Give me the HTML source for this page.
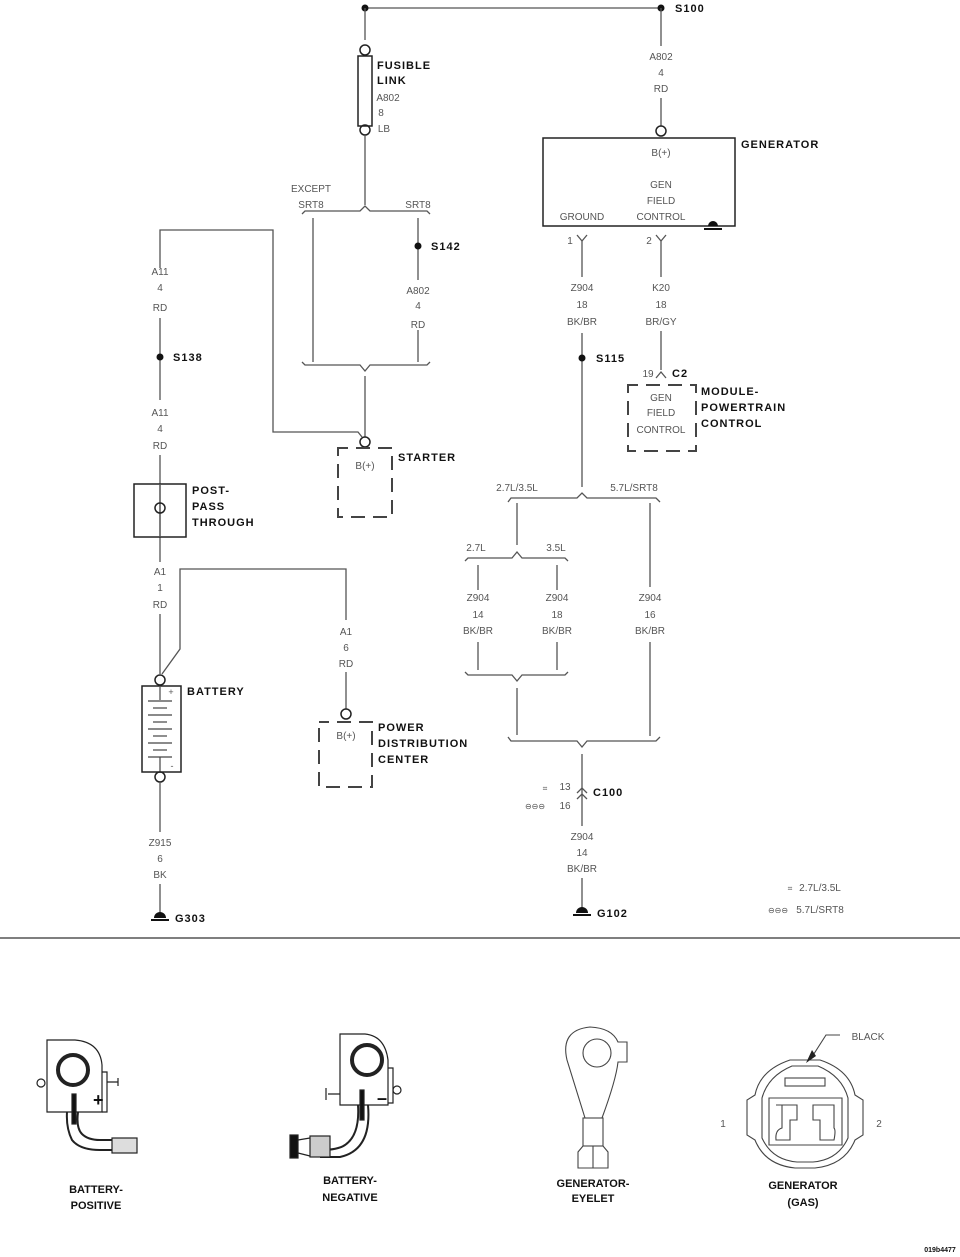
<!DOCTYPE html>
<html><head><meta charset="utf-8"><style>
html,body{margin:0;padding:0;background:#fff;}
svg{display:block;}
.t{font-family:"Liberation Sans",sans-serif;font-size:10px;fill:#555;text-anchor:middle;}
.b{font-family:"Liberation Sans",sans-serif;font-size:11px;font-weight:bold;fill:#111;letter-spacing:1px;}
.w{stroke:#555;stroke-width:1.3;fill:none;}
.k{stroke:#222;stroke-width:1.5;fill:none;}
.d{stroke:#444;stroke-width:2;fill:none;stroke-dasharray:14,8;}
</style></head><body>
<svg width="960" height="1257" viewBox="0 0 960 1257" xmlns="http://www.w3.org/2000/svg">
<!-- top bus -->
<line class="w" x1="365" y1="8" x2="661" y2="8"/>
<circle cx="365" cy="8" r="3.5" fill="#111"/><circle cx="661" cy="8" r="3.5" fill="#111"/>
<text class="b" x="675" y="12">S100</text>
<!-- fusible link -->
<line class="w" x1="365" y1="8" x2="365" y2="40"/>
<circle class="k" cx="365" cy="50" r="5" fill="#fff"/>
<rect class="k" x="358" y="56" width="14" height="70" fill="#fff"/>
<circle class="k" cx="365" cy="130" r="5" fill="#fff"/>
<text class="b" x="377" y="69">FUSIBLE</text><text class="b" x="377" y="84">LINK</text>
<text class="t" x="388" y="101">A802</text><text class="t" x="381" y="116">8</text><text class="t" x="384" y="132">LB</text>
<line class="w" x1="365" y1="135" x2="365" y2="205"/>
<text class="t" x="311" y="192">EXCEPT</text><text class="t" x="311" y="208">SRT8</text><text class="t" x="418" y="208">SRT8</text>
<path class="w" d="M302,214 L305,211 L360,211 L365,206 L370,211 L427,211 L430,214"/>
<line class="w" x1="313" y1="218" x2="313" y2="362"/>
<line class="w" x1="418" y1="218" x2="418" y2="280"/><line class="w" x1="418" y1="330" x2="418" y2="362"/>
<circle cx="418" cy="246" r="3.5" fill="#111"/><text class="b" x="431" y="250">S142</text>
<text class="t" x="418" y="294">A802</text><text class="t" x="418" y="309">4</text><text class="t" x="418" y="328">RD</text>
<path class="w" d="M302,362 L305,365 L360,365 L365,371 L370,365 L427,365 L430,362"/>
<line class="w" x1="365" y1="376" x2="365" y2="437"/>
<circle class="k" cx="365" cy="442" r="5" fill="#fff"/>
<path class="d" d="M338,448 H392 V517 H338 Z" stroke-dashoffset="4"/>
<text class="t" x="365" y="469">B(+)</text>
<text class="b" x="398" y="461">STARTER</text>
<!-- A11 -->
<path class="w" d="M160,268 V230 H273 V432 H358 L362,437"/>
<text class="t" x="160" y="275">A11</text><text class="t" x="160" y="291">4</text><text class="t" x="160" y="311">RD</text>
<line class="w" x1="160" y1="318" x2="160" y2="400"/>
<circle cx="160" cy="357" r="3.5" fill="#111"/><text class="b" x="173" y="361">S138</text>
<text class="t" x="160" y="416">A11</text><text class="t" x="160" y="432">4</text><text class="t" x="160" y="449">RD</text>
<line class="w" x1="160" y1="455" x2="160" y2="562"/>
<rect class="k" x="134" y="484" width="52" height="53" fill="#fff"/>
<line class="w" x1="160" y1="484" x2="160" y2="537"/>
<circle class="k" cx="160" cy="508" r="5" fill="#fff"/>
<text class="b" x="192" y="494">POST-</text><text class="b" x="192" y="510">PASS</text><text class="b" x="192" y="526">THROUGH</text>
<text class="t" x="160" y="575">A1</text><text class="t" x="160" y="591">1</text><text class="t" x="160" y="608">RD</text>
<line class="w" x1="160" y1="614" x2="160" y2="674"/>
<path class="w" d="M162,674 L180,649 V569 H346 V620"/>
<text class="t" x="346" y="635">A1</text><text class="t" x="346" y="651">6</text><text class="t" x="346" y="667">RD</text>
<line class="w" x1="346" y1="672" x2="346" y2="709"/>
<circle class="k" cx="346" cy="714" r="5" fill="#fff"/>
<path class="d" d="M319,722 H372 V787 H319 Z" stroke-dashoffset="4"/>
<text class="t" x="346" y="739">B(+)</text>
<text class="b" x="378" y="731">POWER</text><text class="b" x="378" y="747">DISTRIBUTION</text><text class="b" x="378" y="763">CENTER</text>
<!-- battery -->
<circle class="k" cx="160" cy="680" r="5" fill="#fff"/>
<rect class="k" x="142" y="686" width="39" height="86" fill="#fff"/>
<line class="w" x1="160" y1="686" x2="160" y2="700"/>
<g stroke="#444" stroke-width="1.2">
<line x1="148" y1="701" x2="172" y2="701"/><line x1="153" y1="708" x2="167" y2="708"/>
<line x1="148" y1="715" x2="172" y2="715"/><line x1="153" y1="722" x2="167" y2="722"/>
<line x1="148" y1="729" x2="172" y2="729"/><line x1="153" y1="736" x2="167" y2="736"/>
<line x1="148" y1="743" x2="172" y2="743"/><line x1="153" y1="750" x2="167" y2="750"/>
<line x1="148" y1="757" x2="172" y2="757"/><line x1="160" y1="757" x2="160" y2="772"/>
</g>
<text class="t" x="171" y="695" style="font-size:9px">+</text><text class="t" x="172" y="769" style="font-size:9px">-</text>
<text class="b" x="187" y="695">BATTERY</text>
<circle class="k" cx="160" cy="777" r="5" fill="#fff"/>
<line class="w" x1="160" y1="782" x2="160" y2="832"/>
<text class="t" x="160" y="846">Z915</text><text class="t" x="160" y="862">6</text><text class="t" x="160" y="878">BK</text>
<line class="w" x1="160" y1="884" x2="160" y2="912"/>
<path d="M154,918 a6,6 0 0 1 12,0 z" fill="#111"/><line x1="151" y1="920" x2="169" y2="920" stroke="#111" stroke-width="2"/>
<text class="b" x="175" y="922">G303</text>
<!-- generator -->
<line class="w" x1="661" y1="8" x2="661" y2="46"/>
<text class="t" x="661" y="60">A802</text><text class="t" x="661" y="76">4</text><text class="t" x="661" y="92">RD</text>
<line class="w" x1="661" y1="98" x2="661" y2="126"/>
<circle class="k" cx="661" cy="131" r="5" fill="#fff"/>
<rect class="k" x="543" y="138" width="192" height="88" fill="none"/>
<text class="t" x="661" y="156">B(+)</text>
<text class="t" x="661" y="188">GEN</text><text class="t" x="661" y="204">FIELD</text><text class="t" x="661" y="220">CONTROL</text>
<text class="t" x="582" y="220">GROUND</text>
<path d="M708,226 a5,5 0 0 1 10,0 z" fill="#111"/><line x1="704" y1="229" x2="722" y2="229" stroke="#111" stroke-width="2"/>
<text class="b" x="741" y="148">GENERATOR</text>
<text class="t" x="570" y="244">1</text><text class="t" x="649" y="244">2</text>
<path class="w" d="M577,235 L582,241 L587,235 M656,235 L661,241 L666,235"/>
<line class="w" x1="582" y1="241" x2="582" y2="277"/>
<line class="w" x1="661" y1="241" x2="661" y2="277"/>
<text class="t" x="582" y="291">Z904</text><text class="t" x="582" y="308">18</text><text class="t" x="582" y="325">BK/BR</text>
<text class="t" x="661" y="291">K20</text><text class="t" x="661" y="308">18</text><text class="t" x="661" y="325">BR/GY</text>
<line class="w" x1="582" y1="333" x2="582" y2="487"/>
<circle cx="582" cy="358" r="3.5" fill="#111"/><text class="b" x="596" y="362">S115</text>
<line class="w" x1="661" y1="331" x2="661" y2="370"/>
<path class="w" d="M656,378 L661,372 L666,378"/>
<text class="t" x="648" y="377">19</text><text class="b" x="672" y="377">C2</text>
<path class="d" d="M628,385 H696 V451 H628 Z" stroke-dashoffset="4"/>
<text class="t" x="661" y="401">GEN</text><text class="t" x="661" y="416">FIELD</text><text class="t" x="661" y="433">CONTROL</text>
<text class="b" x="701" y="395">MODULE-</text><text class="b" x="701" y="411">POWERTRAIN</text><text class="b" x="701" y="427">CONTROL</text>
<!-- ground split -->
<text class="t" x="517" y="491">2.7L/3.5L</text><text class="t" x="634" y="491">5.7L/SRT8</text>
<path class="w" d="M508,502 L511,498 L577,498 L582,493 L587,498 L656,498 L660,502"/>
<line class="w" x1="517" y1="503" x2="517" y2="545"/>
<text class="t" x="476" y="551">2.7L</text><text class="t" x="556" y="551">3.5L</text>
<path class="w" d="M465,561 L468,558 L512,558 L517,552 L522,558 L565,558 L568,561"/>
<line class="w" x1="478" y1="565" x2="478" y2="590"/><line class="w" x1="557" y1="565" x2="557" y2="590"/>
<line class="w" x1="650" y1="503" x2="650" y2="587"/>
<text class="t" x="478" y="601">Z904</text><text class="t" x="478" y="618">14</text><text class="t" x="478" y="634">BK/BR</text>
<text class="t" x="557" y="601">Z904</text><text class="t" x="557" y="618">18</text><text class="t" x="557" y="634">BK/BR</text>
<text class="t" x="650" y="601">Z904</text><text class="t" x="650" y="618">16</text><text class="t" x="650" y="634">BK/BR</text>
<line class="w" x1="478" y1="642" x2="478" y2="670"/><line class="w" x1="557" y1="642" x2="557" y2="670"/>
<line class="w" x1="650" y1="642" x2="650" y2="736"/>
<path class="w" d="M465,672 L468,675 L512,675 L517,681 L522,675 L565,675 L568,672"/>
<line class="w" x1="517" y1="688" x2="517" y2="735"/>
<path class="w" d="M508,737 L511,741 L577,741 L582,747 L587,741 L656,741 L660,737"/>
<line class="w" x1="582" y1="754" x2="582" y2="826"/>
<path class="w" d="M577,793 L582,788 L587,793 M577,799 L582,794 L587,799"/>
<text class="b" x="593" y="796">C100</text>
<text class="t" x="565" y="790">13</text><text class="t" x="565" y="809">16</text>
<text class="t" x="545" y="791" style="font-size:8px">⌗</text>
<text class="t" x="535" y="809" style="font-size:8px">⊖⊖⊖</text>
<text class="t" x="582" y="840">Z904</text><text class="t" x="582" y="856">14</text><text class="t" x="582" y="872">BK/BR</text>
<line class="w" x1="582" y1="878" x2="582" y2="907"/>
<path d="M576,913 a6,6 0 0 1 12,0 z" fill="#111"/><line x1="573" y1="915" x2="591" y2="915" stroke="#111" stroke-width="2"/>
<text class="b" x="597" y="917">G102</text>
<text class="t" x="790" y="891" style="font-size:8px">⌗</text><text class="t" x="820" y="891">2.7L/3.5L</text>
<text class="t" x="778" y="913" style="font-size:8px">⊖⊖⊖</text><text class="t" x="820" y="913">5.7L/SRT8</text>
<line x1="0" y1="938" x2="960" y2="938" stroke="#333" stroke-width="1.3"/>
<!-- battery positive -->
<g stroke="#222" fill="none" stroke-width="1.2">
<path d="M47,1040 H75 Q100,1042 102,1065 V1112 H47 Z"/>
<path d="M102,1072 H107 V1112 H102"/>
<circle cx="73" cy="1070" r="15" stroke-width="4"/>
<circle cx="41" cy="1083" r="4"/><path d="M107,1082 H118 M118,1078 V1086"/>
<path d="M67,1112 Q66,1128 72,1140 Q80,1150 100,1150 H112 M78,1112 Q76,1128 82,1134 Q88,1140 100,1140 H112" stroke-width="2"/>
<rect x="72" y="1094" width="4" height="30" fill="#111"/>
<rect x="112" y="1138" width="25" height="15" fill="#ddd"/>
</g>
<text x="93" y="1106" font-family="Liberation Sans" font-size="18" font-weight="bold" fill="#111">+</text>
<!-- battery negative -->
<g stroke="#222" fill="none" stroke-width="1.2">
<path d="M340,1034 H365 Q385,1036 388,1060 V1105 H340 Z"/>
<path d="M388,1068 H393 V1103 H388"/>
<circle cx="367" cy="1060" r="15" stroke-width="4"/>
<circle cx="397" cy="1090" r="4"/><path d="M340,1094 H328 M326,1088 V1100"/>
<path d="M358,1105 Q360,1135 345,1145 Q338,1150 320,1150 M368,1105 Q372,1150 340,1157 H320" stroke-width="2"/>
<rect x="360" y="1090" width="4" height="30" fill="#111"/>
<rect x="310" y="1136" width="20" height="21" fill="#ccc"/>
<rect x="290" y="1135" width="8" height="23" fill="#111"/>
<path d="M298,1140 L310,1138 M298,1153 L310,1156"/>
</g>
<text x="377" y="1104" font-family="Liberation Sans" font-size="18" font-weight="bold" fill="#111">–</text>
<!-- eyelet -->
<g stroke="#444" fill="none" stroke-width="1.1">
<path d="M585,1118 L567,1060 Q560,1030 590,1027 Q612,1028 618,1042 H627 V1062 H618 Q616,1080 602,1118 Z"/>
<circle cx="597" cy="1053" r="14"/>
<rect x="583" y="1118" width="20" height="28"/>
<path d="M583,1146 L578,1152 V1168 H608 V1152 L603,1146 M593,1146 V1168"/>
</g>
<!-- gas connector -->
<g stroke="#444" fill="none" stroke-width="1.1">
<path d="M790,1060 Q760,1070 755,1095 L747,1100 V1135 L755,1140 Q765,1165 795,1168 H815 Q845,1165 855,1140 L863,1135 V1100 L855,1095 Q850,1070 820,1060 Z"/>
<path d="M792,1066 Q768,1076 762,1098 V1138 Q772,1160 797,1162 H813 Q838,1160 848,1138 V1098 Q842,1076 818,1066 Z"/>
<rect x="785" y="1078" width="40" height="8"/>
<path d="M769,1098 H842 V1145 H769 Z"/>
<path d="M776,1105 H797 V1120 H790 V1140 H776 Q775,1130 782,1128 V1105"/>
<path d="M813,1105 H834 V1128 Q836,1130 834,1140 H820 V1120 H813 Z"/>
<path d="M840,1035 H826 L810,1060"/>
</g>
<path d="M806,1063 L812,1050 L816,1056 Z" fill="#222"/>
<text class="t" x="868" y="1040">BLACK</text>
<text class="t" x="723" y="1127">1</text><text class="t" x="879" y="1127">2</text>
<!-- labels -->
<g font-family="Liberation Sans" font-size="11" font-weight="bold" fill="#111" text-anchor="middle">
<text x="96" y="1193">BATTERY-</text><text x="96" y="1209">POSITIVE</text>
<text x="350" y="1184">BATTERY-</text><text x="350" y="1201">NEGATIVE</text>
<text x="593" y="1187">GENERATOR-</text><text x="593" y="1202">EYELET</text>
<text x="803" y="1189">GENERATOR</text><text x="803" y="1206">(GAS)</text>
<text x="940" y="1252" font-size="7">019b4477</text>
</g>
</svg>
</body></html>
